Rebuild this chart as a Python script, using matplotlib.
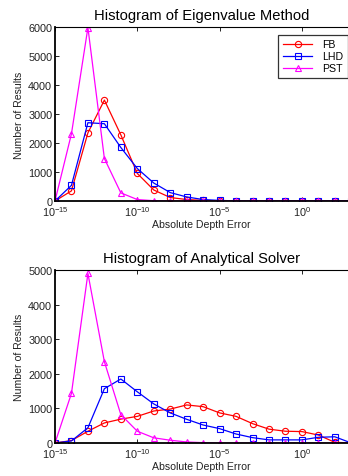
import numpy as np
import matplotlib
matplotlib.use("Agg")
import matplotlib.pyplot as plt
from matplotlib.ticker import FixedLocator, LogFormatterSciNotation, NullLocator

plt.rcParams['font.family'] = ['Liberation Sans', 'DejaVu Sans']
plt.rcParams['mathtext.fontset'] = 'custom'
plt.rcParams['mathtext.rm'] = 'Liberation Sans'
plt.rcParams['mathtext.it'] = 'Liberation Sans:italic'

# bin centres: 10^-15 ... 10^3
exponents = list(range(-15, 4))

# Histogram of Eigenvalue Method
eig_fb = [0, 350, 2350, 3480, 2280, 950, 380, 120, 50, 20, 5, 0, 0, 0, 0, 0, 0, 0, 0]
eig_lhd = [0, 540, 2700, 2665, 1845, 1120, 620, 290, 140, 50, 20, 5, 0, 0, 0, 0, 0, 0, 0]
eig_pst = [0, 2320, 5980, 1465, 280, 50, 10, 0, 0, 0, 0, 0, 0, 0, 0, 0, 0, 0, 0]

# Histogram of Analytical Solver
ana_fb = [0, 70, 340, 580, 690, 770, 925, 980, 1100, 1050, 870, 770, 560, 400, 340, 330, 230, 20, 0]
ana_lhd = [0, 60, 440, 1570, 1850, 1480, 1130, 870, 685, 520, 415, 260, 155, 90, 90, 90, 165, 180, 0]
ana_pst = [0, 1435, 4900, 2350, 820, 340, 150, 80, 30, 10, 0, 0, 0, 0, 0, 0, 0, 0, 0]

labels = ["FB", "LHD", "PST"]
colors = ["#ff0000", "#0000ff", "#ff00ff"]
markers = ["o", "s", "^"]

x = [10.0 ** e for e in exponents]

fig = plt.figure(figsize=(3.48, 4.77), dpi=100)


def make_panel(rect, series, title, ymax, legend=False):
    ax = fig.add_axes(rect)
    for vals, lab, c, m in zip(series, labels, colors, markers):
        ax.plot(x, vals, color=c, marker=m, markersize=4.5, markerfacecolor="none",
                markeredgewidth=0.8, linewidth=0.9, label=lab)
    ax.set_xscale("log")
    ax.set_xlim(1e-15, 10 ** 2.8)
    ax.set_ylim(0, ymax)
    ax.xaxis.set_major_locator(FixedLocator([1e-15, 1e-10, 1e-5, 1e0]))
    ax.xaxis.set_major_formatter(LogFormatterSciNotation())
    ax.xaxis.set_minor_locator(NullLocator())
    ax.set_yticks(np.arange(0, ymax + 1, 1000))
    ax.tick_params(direction="in", length=3, width=0.6, labelsize=7.8, pad=2,
                   top=True, right=False, colors="black", labelcolor="#222222")
    ax.spines["right"].set_visible(False)
    ax.spines["left"].set_linewidth(1.3)
    ax.spines["bottom"].set_linewidth(1.3)
    ax.spines["top"].set_linewidth(0.8)
    ax.set_xlabel("Absolute Depth Error", fontsize=7.6, labelpad=1, color="#222222")
    ax.set_ylabel("Number of Results", fontsize=7.6, labelpad=3, color="#222222")
    ax.set_title(title, fontsize=10.6, pad=6)
    if legend:
        leg = ax.legend(loc="upper right", bbox_to_anchor=(1.01, 0.975), fontsize=7.6,
                        frameon=True, fancybox=False, handlelength=2.8,
                        borderpad=0.45, labelspacing=0.2, handletextpad=0.9,
                        borderaxespad=0.3)
        leg.get_frame().set_edgecolor("black")
        leg.get_frame().set_linewidth(0.9)
    return ax


make_panel([55 / 348, 1 - 202 / 477, 1 - 55 / 348, 174 / 477],
           [eig_fb, eig_lhd, eig_pst], "Histogram of Eigenvalue Method", 6000, legend=True)
make_panel([55 / 348, 1 - 444 / 477, 1 - 55 / 348, 173 / 477],
           [ana_fb, ana_lhd, ana_pst], "Histogram of Analytical Solver", 5000)

fig.savefig("out.png", dpi=100)
